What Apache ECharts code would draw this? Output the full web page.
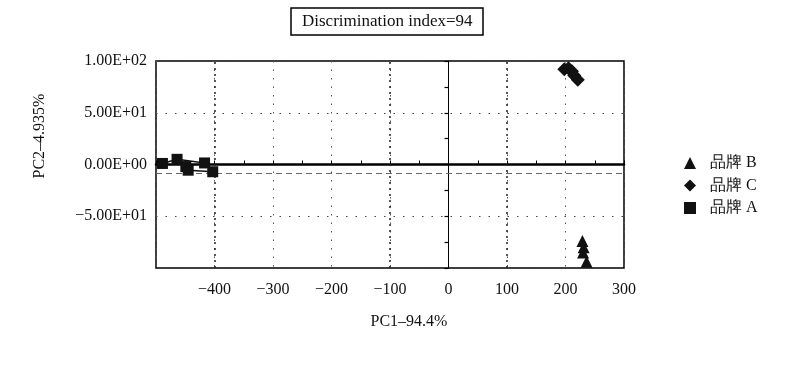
<!DOCTYPE html>
<html>
<head>
<meta charset="utf-8">
<script src="https://cdn.jsdelivr.net/npm/echarts@6/dist/echarts.min.js"></script>
<style>
html,body{margin:0;padding:0;background:#fff;}
#chart{width:800px;height:373px;}
</style>
</head>
<body>
<div id="chart"></div>
<script>
// ---- data ----
const titleText = 'Discrimination index=94';
const xName = 'PC1–94.4%';
const yName = 'PC2–4.935%';
const seriesNames = ['品牌 B', '品牌 C', '品牌 A'];
const brandB = [[229, -74], [231, -80], [230, -85], [236, -94]];
const brandC = [[198, 92], [205, 93], [211, 90], [215, 86], [221, 82]];
const brandA = [[-489, 1], [-464, 5], [-417, 1.5], [-403, -7], [-445, -5.5], [-449, -2]];
const xMin = -500, xMax = 300, xStep = 100;
const yMin = -100, yMax = 100, yStep = 50;
const dashedRefY = [-8];
const heavyGridX = [-400, -100, 100];

const FONT = '"Liberation Serif","Times New Roman",serif';

function sci(v) {
  if (v === 0) return '0.00E+00';
  const e = Math.floor(Math.log10(Math.abs(v)) + 1e-9);
  const m = Math.abs(v) / Math.pow(10, e);
  return (v < 0 ? '−' : '') + m.toFixed(2) + 'E' + (e < 0 ? '-' : '+') + String(Math.abs(e)).padStart(2, '0');
}

const chart = echarts.init(document.getElementById('chart'));
chart.setOption({
  animation: false,
  backgroundColor: '#fff',
  title: {
    text: titleText,
    left: 291, top: 8,
    padding: [5, 11],
    borderColor: '#000', borderWidth: 1.5,
    textStyle: { fontFamily: FONT, fontSize: 17, fontWeight: 'normal', color: '#111' }
  },
  legend: {
    orient: 'vertical',
    left: 679, top: 150,
    itemWidth: 12, itemHeight: 12, itemGap: 6.5,
    textStyle: { fontFamily: FONT, fontSize: 16, color: '#111', padding: [0, 0, 0, 9] },
    data: [
      { name: seriesNames[0], icon: 'triangle' },
      { name: seriesNames[1], icon: 'diamond' },
      { name: seriesNames[2], icon: 'rect', itemStyle: { borderWidth: 0 } }
    ]
  },
  grid: {
    left: 156, right: 176, top: 61, bottom: 105,
    show: true, borderColor: '#000', borderWidth: 1.5, backgroundColor: 'transparent'
  },
  graphic: [
    { type: 'text', x: 40, y: 136, rotation: Math.PI / 2,
      style: { text: yName, fontFamily: FONT, fontSize: 16, fill: '#111', align: 'center', verticalAlign: 'middle' } },
    { type: 'text', x: 409, y: 322,
      style: { text: xName, fontFamily: FONT, fontSize: 16, fill: '#111', align: 'center', verticalAlign: 'middle' } }
  ],
  xAxis: [
    {
      type: 'value', min: xMin, max: xMax, interval: xStep,
      axisLine: { show: false, onZero: false },
      axisTick: { show: false },
      axisLabel: { fontFamily: FONT, fontSize: 16, color: '#111', margin: 14,
        formatter: v => v === xMin ? '' : String(v).replace('-', '−') },
      splitLine: { show: true, lineStyle: { type: [1.5, 7], color: '#555', width: 1 } }
    },
    {
      type: 'value', min: xMin, max: xMax, interval: 50, position: 'bottom',
      axisLine: { show: true, onZero: true, onZeroAxisIndex: 0, lineStyle: { color: '#000', width: 2.5 } },
      axisTick: { show: true, inside: true, length: 4, lineStyle: { color: '#000', width: 1 } },
      axisLabel: { show: false },
      splitLine: { show: false }
    }
  ],
  yAxis: [
    {
      type: 'value', min: yMin, max: yMax, interval: yStep,
      axisLine: { show: false, onZero: false },
      axisTick: { show: false },
      axisLabel: { fontFamily: FONT, fontSize: 16, color: '#111', margin: 9,
        formatter: v => v === yMin ? '' : sci(v) },
      splitLine: { show: true, lineStyle: { type: [1.5, 8], color: '#444', width: 1 } }
    },
    {
      type: 'value', min: yMin, max: yMax, interval: 25, position: 'left',
      axisLine: { show: true, onZero: true, onZeroAxisIndex: 0, lineStyle: { color: '#000', width: 1 } },
      axisTick: { show: true, length: 4, lineStyle: { color: '#000', width: 1.2 } },
      axisLabel: { show: false },
      splitLine: { show: false }
    }
  ],
  series: [
    {
      name: seriesNames[0], type: 'scatter', data: brandB,
      symbol: 'triangle', symbolSize: 12, itemStyle: { color: '#111', opacity: 1 }
    },
    {
      name: seriesNames[1], type: 'scatter', data: brandC,
      symbol: 'diamond', symbolSize: 14, itemStyle: { color: '#111', opacity: 1 }
    },
    {
      name: seriesNames[2], type: 'line', data: brandA,
      symbol: 'rect', symbolSize: 11, showSymbol: true,
      itemStyle: { color: '#111', opacity: 1 }, lineStyle: { color: '#111', width: 1.5 },
      z: 5,
      markLine: {
        silent: true, symbol: 'none', label: { show: false },
        data: dashedRefY.map(v => ({ yAxis: v, lineStyle: { type: [6, 4], color: '#666', width: 1 } }))
          .concat(heavyGridX.map(v => ({ xAxis: v, lineStyle: { type: [2, 4], color: '#222', width: 1.5 } })))
      }
    }
  ]
});
</script>
</body>
</html>
